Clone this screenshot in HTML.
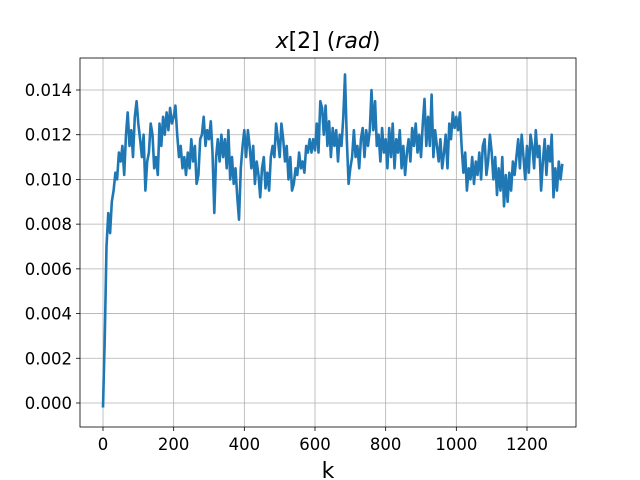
<!DOCTYPE html>
<html><head><meta charset="utf-8"><style>
body{margin:0;background:#fff}
svg{display:block;font-family:"DejaVu Sans","Liberation Sans",sans-serif}
</style></head><body>
<svg id="chart" width="640" height="480">
<rect width="640" height="480" fill="#fff"/>
<g id="grid"></g>
<g id="line"></g>
<rect x="80" y="58" width="496" height="369" fill="none" stroke="#000" stroke-width="0.8"/>
<g id="ticks"></g>
<text x="328" y="48" font-size="22" text-anchor="middle"><tspan font-style="italic">x</tspan>[2] (<tspan font-style="italic">rad</tspan>)</text>
<text x="328" y="478" font-size="22" text-anchor="middle">k</text>
</svg>
<script>
const xTicks=[0,200,400,600,800,1000,1200];
const yTicks=[0,0.002,0.004,0.006,0.008,0.010,0.012,0.014];
const yTickLabels=["0.000","0.002","0.004","0.006","0.008","0.010","0.012","0.014"];
const kStep=5;
// values in units of 1e-3 rad, one per k step of 5 (k = 0..1300)
const xValuesMilli=[-0.2,3,7,8.5,7.6,9,9.5,10.3,10,11.2,10.8,11.5,10.2,12,13,11.5,12.2,11,12.8,13.5,
12.5,11.8,11,12,9.5,10.8,11.2,12.5,12,10.5,11,10.2,12.5,11.5,12.8,12,13,12.2,13.2,12.5,
12.8,13.3,12,11,11.5,10.5,11,10.2,11.2,10.5,11.8,10.8,11.5,9.8,10.2,11.8,12,12.8,11.5,12.2,
11.8,12.6,11.2,8.5,11,11.8,10.8,12,11,11.8,10.5,12.2,10,11,9.8,10.5,9.2,8.2,10.5,11.5,
12.2,11,12.2,11.5,10.5,11.5,9.8,10.8,10.2,9.2,10.5,11,9.6,10.3,9.5,11,11.5,11,12.5,11.8,
11,12.5,11.8,10.8,11.5,10,11,9.5,9.8,10.5,10.2,11.2,10.5,10.8,10.3,11.5,11.2,11.8,11.2,11.8,
11.3,12.5,11.2,13.5,13.2,12,13.3,11.5,12.6,11,12.3,11.5,12.2,10.8,12,11.5,12.8,14.7,11.8,9.8,
10.5,11,12.2,11,11.5,10.5,11.8,12.3,11,12.2,11.5,12.2,14,12.2,13.5,11.5,12,10.8,12.3,11.2,
11.8,10.5,12.3,11,12.5,10.5,11.8,11.2,12.2,10.5,11.5,10.2,11.2,11.8,10.8,12.3,11.5,12.5,11.2,12,
11,12.5,13.6,11.5,12.8,11.5,13.8,11,12.2,11.5,10.8,11.8,10.5,11.2,12,10.5,12.5,11.8,13,12.3,
12.8,12.2,13,11.5,10.3,11.2,9.5,10.5,10,11,9.8,10.8,10.2,11.2,10,11.5,11.8,10.2,10.8,12,
11.2,10,11,9.3,10.5,9.5,11,8.8,10.2,9,10.3,9.5,10.8,10.2,11,11.8,10.5,12,11,10,
11.5,10.3,12,11.5,10.5,12.2,11,11.5,9.5,10.8,11.8,10.2,11.5,10.8,12,9.2,10.5,9.5,10.8,10,10.7];
const NS="http://www.w3.org/2000/svg";
function sx(v){return 103+v*(424/1200);}
function sy(v){return 403-v*(313/0.014);}
const grid=document.getElementById('grid'),ticks=document.getElementById('ticks'),lineG=document.getElementById('line');
function mk(t,a,p){const e=document.createElementNS(NS,t);for(const k in a)e.setAttribute(k,a[k]);p.appendChild(e);return e;}
xTicks.forEach(v=>{const x=sx(v);
 const g=mk('line',{x1:x,x2:x,y1:58,y2:427,stroke:'#b0b0b0','stroke-width':0.8},grid);
 
 
 mk('line',{x1:x,x2:x,y1:427,y2:431,stroke:'#000','stroke-width':0.8},ticks);
 const t=mk('text',{x:x,y:450,'font-size':16.5,'text-anchor':'middle'},ticks);t.textContent=v;
 
 
});
yTicks.forEach((v,i)=>{const y=sy(v);
 const g=mk('line',{x1:80,x2:576,y1:y,y2:y,stroke:'#b0b0b0','stroke-width':0.8},grid);
 
 
 mk('line',{x1:76,x2:80,y1:y,y2:y,stroke:'#000','stroke-width':0.8},ticks);
 const t=mk('text',{x:72,y:y+6,'font-size':16.5,'text-anchor':'end'},ticks);t.textContent=yTickLabels[i];
 
 
});
const d=xValuesMilli.map((m,i)=>(i?'L':'M')+sx(i*kStep).toFixed(1)+' '+sy(m*0.001).toFixed(1)).join(' ');
const p=mk('path',{d:d,fill:'none',stroke:'#1f77b4','stroke-width':2.6,'stroke-linejoin':'round'},lineG);


</script>
</body></html>
